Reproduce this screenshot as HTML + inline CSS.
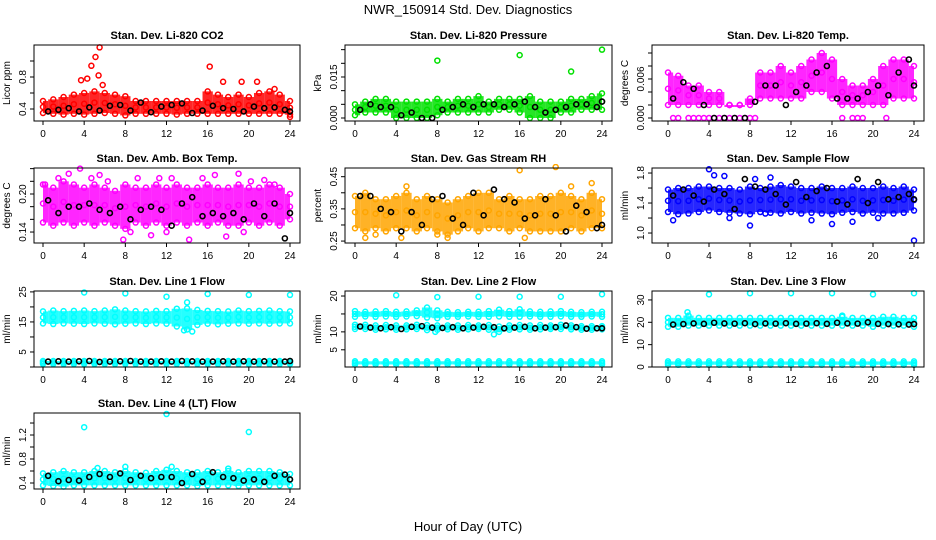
<!DOCTYPE html>
<html><head><meta charset="utf-8"><style>
html,body{margin:0;padding:0;background:#fff;}
svg{display:block;font-family:"Liberation Sans",sans-serif;}
</style></head><body>
<svg id="chart" width="936" height="540" viewBox="0 0 936 540">
<text x="468" y="14" text-anchor="middle" font-size="13">NWR_150914 Std. Dev. Diagnostics</text>
<text x="468" y="531" text-anchor="middle" font-size="13">Hour of Day (UTC)</text>
</svg>
<script>
// shared x data
const HOURS = [0,1,2,3,4,5,6,7,8,9,10,11,12,13,14,15,16,17,18,19,20,21,22,23,24];
const BHOURS = [0.5,1.5,2.5,3.5,4.5,5.5,6.5,7.5,8.5,9.5,10.5,11.5,12.5,13.5,14.5,15.5,16.5,17.5,18.5,19.5,20.5,21.5,22.5,23.5,24];
const XTICKS = [0,4,8,12,16,20,24];

// Panel 1: CO2
const co2Hi = [0.5,0.52,0.55,0.58,0.6,0.62,0.6,0.58,0.56,0.5,0.5,0.5,0.5,0.5,0.5,0.5,0.62,0.58,0.55,0.58,0.55,0.6,0.62,0.58,0.5];
const co2Lo = [0.35,0.34,0.33,0.34,0.33,0.34,0.35,0.34,0.32,0.34,0.34,0.34,0.34,0.33,0.34,0.34,0.34,0.34,0.34,0.34,0.34,0.34,0.34,0.34,0.33];
const co2OutX = [3.7,4.3,4.7,5.1,5.5,5.4,5.8,16.2,17.5,19.3,20.8,22.5,24];
const co2OutY = [0.76,0.78,0.94,1.05,1.17,0.82,0.7,0.93,0.74,0.74,0.74,0.65,0.3];
const co2Blk = [0.37,0.39,0.41,0.37,0.42,0.38,0.44,0.45,0.38,0.48,0.36,0.43,0.45,0.47,0.35,0.38,0.44,0.41,0.40,0.37,0.43,0.41,0.42,0.39,0.37];
// Panel 2: Pressure
const presHi = [0.005,0.006,0.007,0.007,0.006,0.006,0.006,0.006,0.007,0.006,0.007,0.007,0.008,0.006,0.007,0.007,0.007,0.008,0.006,0.006,0.006,0.007,0.007,0.008,0.009];
const presLo = [0.001,0.002,0.002,0.002,0.000,0.000,0.000,0.000,0.001,0.002,0.002,0.002,0.002,0.002,0.003,0.003,0.002,0.000,0.000,0.000,0.002,0.002,0.003,0.003,0.003];
const presOutX = [8,16,21,24];
const presOutY = [0.021,0.023,0.017,0.025];
const presBlk = [0.003,0.005,0.004,0.004,0.001,0.002,0.000,0.000,0.003,0.004,0.005,0.004,0.005,0.005,0.004,0.005,0.006,0.004,0.002,0.003,0.004,0.005,0.005,0.004,0.006];
// Panel 3: Temp
const tempHi = [0.007,0.0065,0.005,0.005,0.004,0.004,0.002,0.002,0.003,0.007,0.007,0.008,0.007,0.008,0.009,0.010,0.009,0.006,0.005,0.005,0.006,0.008,0.009,0.009,0.008];
const tempLo = [0.002,0.002,0.002,0.002,0.002,0.002,0.002,0.002,0.002,0.003,0.003,0.003,0.003,0.003,0.004,0.004,0.003,0.002,0.002,0.002,0.002,0.002,0.003,0.003,0.003];
const tempOutX = [0.5,1,2,2.5,3,3.5,4,4.5,5,5.5,6,6.5,7,7.5,8,8.5,17,18,18.5,19,21.3];
const tempOutY = [0,0,0,0,0,0,0,0,0,0,0,0,0,0,0,0,0,0,0,0,0];
const tempBlk = [0.003,0.0055,0.0045,0.002,0.0,0.0,0.0,0.0,0.0025,0.005,0.005,0.002,0.004,0.005,0.007,0.008,0.003,0.003,0.003,0.004,0.005,0.0035,0.007,0.009,0.005];
// Panel 4: Amb box temp
const ambHi = [0.215,0.21,0.22,0.215,0.21,0.215,0.21,0.205,0.215,0.21,0.21,0.215,0.21,0.215,0.21,0.21,0.215,0.21,0.21,0.215,0.21,0.21,0.215,0.21,0.2];
const ambLo = [0.155,0.15,0.155,0.15,0.155,0.15,0.155,0.15,0.145,0.155,0.15,0.155,0.15,0.155,0.15,0.155,0.15,0.155,0.15,0.15,0.155,0.15,0.155,0.15,0.16];
const ambOutX = [0.2,1.5,2.5,3.6,4.7,5.5,6.3,7.8,9.2,10.5,11.3,12.5,14.2,15.5,16.7,17.8,19,20.2,21.5,22.5,8.5,12,19.5];
const ambOutY = [0.215,0.225,0.232,0.24,0.225,0.23,0.22,0.128,0.225,0.135,0.225,0.225,0.128,0.225,0.23,0.133,0.232,0.22,0.222,0.215,0.14,0.14,0.14];
const ambBlk = [0.19,0.17,0.18,0.18,0.185,0.175,0.17,0.18,0.16,0.175,0.18,0.175,0.15,0.185,0.195,0.165,0.17,0.165,0.17,0.16,0.185,0.165,0.185,0.13,0.17];
// Panel 5: Gas stream RH
const rhHi = [0.39,0.4,0.38,0.38,0.39,0.4,0.38,0.39,0.38,0.37,0.38,0.39,0.4,0.4,0.38,0.39,0.38,0.38,0.39,0.39,0.4,0.39,0.38,0.4,0.38];
const rhLo = [0.29,0.28,0.29,0.28,0.29,0.29,0.28,0.29,0.28,0.27,0.28,0.29,0.28,0.29,0.29,0.28,0.29,0.28,0.28,0.28,0.28,0.29,0.28,0.29,0.29];
const rhOutX = [1,2,4.5,5,8,9,16,16.5,19.5,21,23];
const rhOutY = [0.26,0.27,0.26,0.42,0.27,0.26,0.47,0.26,0.48,0.42,0.43];
const rhBlk = [0.39,0.39,0.35,0.34,0.28,0.34,0.30,0.38,0.39,0.32,0.30,0.40,0.33,0.41,0.38,0.37,0.32,0.33,0.38,0.33,0.28,0.36,0.34,0.29,0.30];
// Panel 6: Sample flow
const sfHi = [1.58,1.6,1.6,1.62,1.62,1.6,1.6,1.58,1.62,1.6,1.62,1.64,1.62,1.6,1.6,1.62,1.6,1.6,1.62,1.6,1.6,1.62,1.6,1.62,1.58];
const sfLo = [1.28,1.25,1.26,1.28,1.3,1.28,1.27,1.26,1.25,1.28,1.27,1.26,1.28,1.26,1.27,1.26,1.25,1.27,1.28,1.26,1.27,1.26,1.26,1.27,1.3];
const sfOutX = [0.5,4,4.5,5.5,6,8,8.5,9.5,10,14,16,18,20.5,24];
const sfOutY = [1.17,1.85,1.77,1.76,1.2,1.1,1.72,1.26,1.74,1.17,1.12,1.15,1.2,0.9];
const sfBlk = [1.5,1.58,1.5,1.42,1.58,1.52,1.32,1.72,1.62,1.58,1.52,1.38,1.68,1.48,1.56,1.6,1.42,1.38,1.72,1.4,1.68,1.45,1.48,1.52,1.45];
// Panel 7: Line 1 flow
const l1Hi = [18.5,18.8,18.6,18.7,18.8,18.6,18.8,19.2,18.8,18.6,18.5,18.7,18.6,19.4,19.5,19,18.7,18.6,18.5,18.8,18.6,18.7,18.8,18.6,18.5];
const l1Lo = [14.5,14.3,14.5,14.4,14.3,14.5,14.4,14.2,14.4,14.5,14.3,14.5,14.4,13.5,12.5,14,14.4,14.2,14.4,14.5,14.4,14.5,14.4,14.5,14.5];
const l1BaseHi = [2,2,2,2,2,2,2,2,2,2,2,2,2,2,2,2,2,2,2,2,2,2,2,2,2];
const l1BaseLo = [1,1,1,1,1,1,1,1,1,1,1,1,1,1,1,1,1,1,1,1,1,1,1,1,1];
const l1OutX = [4,8,12,16,20,24,14,14.5,13.7];
const l1OutY = [24.8,24.5,23.4,24.3,24,24,21.5,11.8,12.2];
const l1Blk = [1.8,1.9,1.8,1.9,2.0,1.7,1.8,1.9,2.0,1.8,1.8,1.9,1.8,2.0,1.9,1.8,1.8,1.9,1.8,1.9,1.8,1.9,1.8,1.8,2.0];
// Panel 8: Line 2 flow
const l2Hi = [15.8,15.6,15.7,15.8,15.6,15.7,16,16.8,16,15.6,15.5,15.6,15.6,15.8,16.2,15.8,16.3,15.7,15.6,15.7,15.8,15.6,15.5,15.6,15.6];
const l2Lo = [14.2,14.3,14.2,14.3,14.2,14.3,14.4,14,13.8,14.2,14.2,14.3,14.2,14.2,14.3,14.2,14.2,14.3,14.2,14.2,14.3,14.2,14.2,14.3,14.2];
const l2MidHi = [12,12,11.8,11.9,11.8,11.8,12,11.9,11.8,11.8,11.8,11.9,11.8,11.9,11.5,11.8,11.9,11.8,11.9,11.8,12,11.8,11.6,11.6,11.6];
const l2MidLo = [10.8,10.8,10.6,10.7,10.6,10.7,10.8,10.5,10.6,10.7,10.6,10.7,10.8,10.6,10,10.6,10.7,10.6,10.7,10.8,10.8,10.7,10.6,10.6,10.7];
const l2BaseHi = [1.8,1.8,1.8,1.8,1.8,1.8,1.8,1.8,1.8,1.8,1.8,1.8,1.8,1.8,1.8,1.8,1.8,1.8,1.8,1.8,1.8,1.8,1.8,1.8,1.8];
const l2BaseLo = [0.9,0.9,0.9,0.9,0.9,0.9,0.9,0.9,0.9,0.9,0.9,0.9,0.9,0.9,0.9,0.9,0.9,0.9,0.9,0.9,0.9,0.9,0.9,0.9,0.9];
const l2OutX = [4,8,12,16,20,24,13.5,7.8];
const l2OutY = [20.2,19.7,19.8,19.8,19.8,20.5,9.3,10];
const l2Blk = [11.5,11.2,11.0,11.3,10.8,11.4,11.6,11.2,11.1,11.3,11.0,11.2,11.4,11.3,11.0,11.2,11.4,11.0,11.2,11.3,11.8,11.3,10.9,11.0,11.0];
// Panel 9: Line 3 flow
const l3Hi = [22,22,23,22,22,22,22,22,22,22,22,22,22,22,22,22,22,22.5,22,22,22,22.5,22.5,22,22];
const l3Lo = [18,18,18.5,18.5,18.5,18.5,18.5,18.5,18.5,18.5,18.5,18.5,18.5,18.5,18.5,18.5,18.5,18.5,18.5,18.5,18,18.5,18.5,18.5,18];
const l3BaseHi = [2.5,2.5,2.5,2.5,2.5,2.5,2.5,2.5,2.5,2.5,2.5,2.5,2.5,2.5,2.5,2.5,2.5,2.5,2.5,2.5,2.5,2.5,2.5,2.5,2.5];
const l3BaseLo = [1,1,1,1,1,1,1,1,1,1,1,1,1,1,1,1,1,1,1,1,1,1,1,1,1];
const l3OutX = [4,8,12,16,20,24,1.9,17];
const l3OutY = [32.5,33,33,33,32.5,33,24.5,23];
const l3Blk = [19,19.2,19.5,19.3,19.8,19.5,19.4,19.6,19.2,19.5,19.4,19.6,19.3,19.4,19.6,19.3,19.8,19.5,19.4,20,19.3,19.2,19.1,19.0,19.2];
// Panel 10: Line 4 flow
const l4Hi = [0.56,0.58,0.6,0.58,0.58,0.6,0.6,0.58,0.6,0.58,0.57,0.6,0.62,0.6,0.58,0.58,0.6,0.58,0.6,0.58,0.6,0.6,0.6,0.58,0.55];
const l4Lo = [0.36,0.35,0.34,0.36,0.36,0.36,0.36,0.36,0.36,0.36,0.36,0.36,0.36,0.36,0.36,0.35,0.36,0.36,0.36,0.35,0.36,0.36,0.36,0.36,0.36];
const l4OutX = [4,12,20,5.3,8,12.5,18];
const l4OutY = [1.33,1.55,1.25,0.65,0.67,0.67,0.64];
const l4Blk = [0.52,0.43,0.45,0.44,0.5,0.55,0.5,0.56,0.45,0.52,0.48,0.5,0.5,0.4,0.55,0.42,0.58,0.5,0.48,0.44,0.46,0.42,0.52,0.54,0.46];

const panels = [
 {name:'co2',title:'Stan. Dev. Li-820 CO2',ylab:'Licor ppm',box:[34,45,300,121],xr:[43,290],dom:[0.25,1.2],color:'#ff0000',
  ticks:[0.4,0.6,0.8,1.0],labels:['0.4','','0.8',''],bands:[[co2Hi,co2Lo]],outX:co2OutX,outY:co2OutY,blk:co2Blk},
 {name:'pressure',title:'Stan. Dev. Li-820 Pressure',ylab:'kPa',box:[345,45,612,121],xr:[355,602],dom:[-0.0011,0.0267],color:'#00e000',
  ticks:[0,0.005,0.01,0.015,0.02,0.025],labels:['0.000','','','0.015','',''],bands:[[presHi,presLo]],outX:presOutX,outY:presOutY,blk:presBlk},
 {name:'temp',title:'Stan. Dev. Li-820 Temp.',ylab:'degrees C',box:[652,45,924,121],xr:[668,914],dom:[-0.00046,0.01123],color:'#ff00ff',
  ticks:[0,0.002,0.004,0.006,0.008,0.010],labels:['0.000','','','0.006','',''],bands:[[tempHi,tempLo]],outX:tempOutX,outY:tempOutY,blk:tempBlk},
 {name:'amb-box-temp',title:'Stan. Dev. Amb. Box Temp.',ylab:'degrees C',box:[34,168,300,243],xr:[43,290],dom:[0.1227,0.241],color:'#ff00ff',
  ticks:[0.14,0.16,0.18,0.20,0.22,0.24],labels:['0.14','','','0.20','',''],bands:[[ambHi,ambLo]],outX:ambOutX,outY:ambOutY,blk:ambBlk},
 {name:'gas-stream-rh',title:'Stan. Dev. Gas Stream RH',ylab:'percent',box:[345,168,612,243],xr:[355,602],dom:[0.244,0.477],color:'#ffa500',
  ticks:[0.25,0.30,0.35,0.40,0.45],labels:['0.25','','0.35','','0.45'],bands:[[rhHi,rhLo]],outX:rhOutX,outY:rhOutY,blk:rhBlk},
 {name:'sample-flow',title:'Stan. Dev. Sample Flow',ylab:'ml/min',box:[652,168,924,243],xr:[668,914],dom:[0.867,1.867],color:'#0000ff',
  ticks:[1.0,1.2,1.4,1.6,1.8],labels:['1.0','','1.4','','1.8'],bands:[[sfHi,sfLo]],outX:sfOutX,outY:sfOutY,blk:sfBlk},
 {name:'line1-flow',title:'Stan. Dev. Line 1 Flow',ylab:'ml/min',box:[34,291,300,367],xr:[43,290],dom:[0,25.3],color:'#00ffff',
  ticks:[0,5,10,15,20,25],labels:['','5','','15','','25'],bands:[[l1Hi,l1Lo],[l1BaseHi,l1BaseLo]],outX:l1OutX,outY:l1OutY,blk:l1Blk},
 {name:'line2-flow',title:'Stan. Dev. Line 2 Flow',ylab:'ml/min',box:[345,291,612,367],xr:[355,602],dom:[0.2,21.4],color:'#00ffff',
  ticks:[5,10,15,20],labels:['5','10','','20'],bands:[[l2Hi,l2Lo],[l2MidHi,l2MidLo],[l2BaseHi,l2BaseLo]],outX:l2OutX,outY:l2OutY,blk:l2Blk},
 {name:'line3-flow',title:'Stan. Dev. Line 3 Flow',ylab:'ml/min',box:[652,291,924,367],xr:[668,914],dom:[0,34],color:'#00ffff',
  ticks:[0,10,20,30],labels:['0','10','20','30'],bands:[[l3Hi,l3Lo],[l3BaseHi,l3BaseLo]],outX:l3OutX,outY:l3OutY,blk:l3Blk},
 {name:'line4-flow',title:'Stan. Dev. Line 4 (LT) Flow',ylab:'ml/min',box:[34,413,300,489],xr:[43,290],dom:[0.3,1.567],color:'#00ffff',
  ticks:[0.4,0.6,0.8,1.0,1.2,1.4],labels:['0.4','','0.8','','1.2',''],bands:[[l4Hi,l4Lo]],outX:l4OutX,outY:l4OutY,blk:l4Blk}
];

const NS='http://www.w3.org/2000/svg';
const svg=document.getElementById('chart');
function mk(tag,attrs,parent){const e=document.createElementNS(NS,tag);for(const k in attrs)e.setAttribute(k,attrs[k]);(parent||svg).appendChild(e);return e;}

panels.forEach(p=>{
  const g=mk('g',{});
  
  
  const [L,T,R,B]=p.box;
  const xs=h=>p.xr[0]+(h/24)*(p.xr[1]-p.xr[0]);
  const ys=v=>B-(v-p.dom[0])/(p.dom[1]-p.dom[0])*(B-T);
  const clipId='clip-'+p.name;
  const cp=mk('clipPath',{id:clipId},g);mk('rect',{x:L,y:T-4,width:R-L,height:B-T+8},cp);
  const data=mk('g',{'clip-path':'url(#'+clipId+')'},g);
  // bands
  p.bands.forEach(([hi,lo])=>{
    for(let i=0;i<HOURS.length;i++){
      const x0=xs(Math.max(0,HOURS[i]-0.5)), x1=xs(Math.min(24,HOURS[i]+0.5));
      const r=mk('rect',{x:x0,y:ys(hi[i]),width:x1-x0,height:Math.max(2,ys(lo[i])-ys(hi[i])),fill:p.color,opacity:0.85},data);
      
      
      [hi[i],lo[i],(hi[i]+lo[i])/2].forEach(v=>{
        const c=mk('circle',{cx:xs(HOURS[i]),cy:ys(v),r:2.5,fill:'none',stroke:p.color,'stroke-width':1.5},data);
        
        
      });
    }
  });
  p.outX.forEach((h,i)=>{
    const c=mk('circle',{cx:xs(h),cy:ys(p.outY[i]),r:2.5,fill:'none',stroke:p.color,'stroke-width':1.5},data);
    
    
  });
  p.blk.forEach((v,i)=>{
    const c=mk('circle',{cx:xs(BHOURS[i]),cy:ys(v),r:2.5,fill:'none',stroke:'#000','stroke-width':1.6},data);
    
    
  });
  // frame
  const fr=mk('rect',{x:L,y:T,width:R-L,height:B-T,fill:'none',stroke:'#000','stroke-width':1},g);
  
  
  // title
  const t=mk('text',{x:(L+R)/2,y:T-6,'text-anchor':'middle','font-size':11,'font-weight':'bold'},g);
  t.textContent=p.title;
  
  
  // x axis
  XTICKS.forEach(h=>{
    mk('line',{x1:xs(h),x2:xs(h),y1:B,y2:B+4,stroke:'#000'},g);
    const tl=mk('text',{x:xs(h),y:B+16,'text-anchor':'middle','font-size':10},g);
    tl.textContent=h;
    
    
  });
  // y axis
  p.ticks.forEach((v,i)=>{
    const y=ys(v);
    mk('line',{x1:L,x2:L-4,y1:y,y2:y,stroke:'#000'},g);
    if(p.labels[i]){
      const yl=mk('text',{x:L-8,y:y,'text-anchor':'middle','font-size':10,transform:'rotate(-90 '+(L-8)+' '+y+')'},g);
      yl.textContent=p.labels[i];
      
      
    }
  });
  const cy=(T+B)/2;
  const ya=mk('text',{x:L-24,y:cy,'text-anchor':'middle','font-size':10,transform:'rotate(-90 '+(L-24)+' '+cy+')'},g);
  ya.textContent=p.ylab;
  
  
});
</script>
</body></html>
